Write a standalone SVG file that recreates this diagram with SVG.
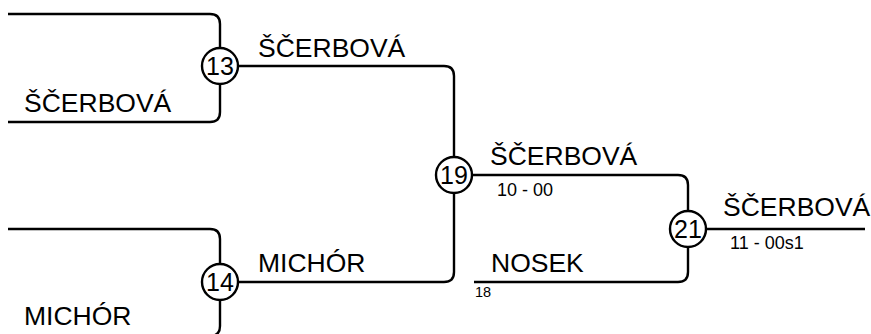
<svg xmlns="http://www.w3.org/2000/svg" width="871" height="334" viewBox="0 0 871 334">
<style>
.ln{fill:none;stroke:#000;stroke-width:2.4}
.nd circle{fill:#fff;stroke:#000;stroke-width:2.4}
.num{font-family:"Liberation Sans",Arial,sans-serif;font-size:25px;text-anchor:middle;fill:#000}
.nm{font-family:"Liberation Sans",Arial,sans-serif;font-size:26.5px;fill:#000}
.sc{font-family:"Liberation Sans",Arial,sans-serif;font-size:18px;fill:#000}
.sm{font-family:"Liberation Sans",Arial,sans-serif;font-size:14.5px;fill:#000}
</style>
<rect width="871" height="334" fill="#fff"/>
<g id="connectors">
<path class="ln" d="M8,14 H210 Q220,14 220,24 V48"/>
<path class="ln" d="M220,84 V112 Q220,122 210,122 H8"/>
<path class="ln" d="M8,229 H210 Q220,229 220,239 V264"/>
<path class="ln" d="M220,300 V326 Q220,336 210,336 H8"/>
<path class="ln" d="M238,66 H444 Q454,66 454,76 V157"/>
<path class="ln" d="M454,193 V272 Q454,282 444,282 H238"/>
<path class="ln" d="M472,175 H678 Q688,175 688,185 V211"/>
<path class="ln" d="M688,247 V272 Q688,282 678,282 H474"/>
<path class="ln" d="M706,229 H865"/>
</g>
<g id="labels">
<text class="nm" x="24" y="112">ŠČERBOVÁ</text>
<text class="nm" x="24" y="325">MICHÓR</text>
<text class="nm" x="258" y="57">ŠČERBOVÁ</text>
<text class="nm" x="258" y="272">MICHÓR</text>
<text class="nm" x="490" y="165">ŠČERBOVÁ</text>
<text class="sc" x="497" y="196">10 - 00</text>
<text class="nm" x="491" y="272">NOSEK</text>
<text class="sm" x="475" y="297">18</text>
<text class="nm" x="723" y="216">ŠČERBOVÁ</text>
<text class="sc" x="730" y="249">11 - 00s1</text>
</g>
<g id="node13" class="nd"><circle cx="220" cy="66" r="18"/><text class="num" x="220" y="75">13</text></g>
<g id="node14" class="nd"><circle cx="220" cy="282" r="18"/><text class="num" x="220" y="291">14</text></g>
<g id="node19" class="nd"><circle cx="454" cy="175" r="18"/><text class="num" x="454" y="184">19</text></g>
<g id="node21" class="nd"><circle cx="688" cy="229" r="18"/><text class="num" x="688" y="238">21</text></g>
</svg>
